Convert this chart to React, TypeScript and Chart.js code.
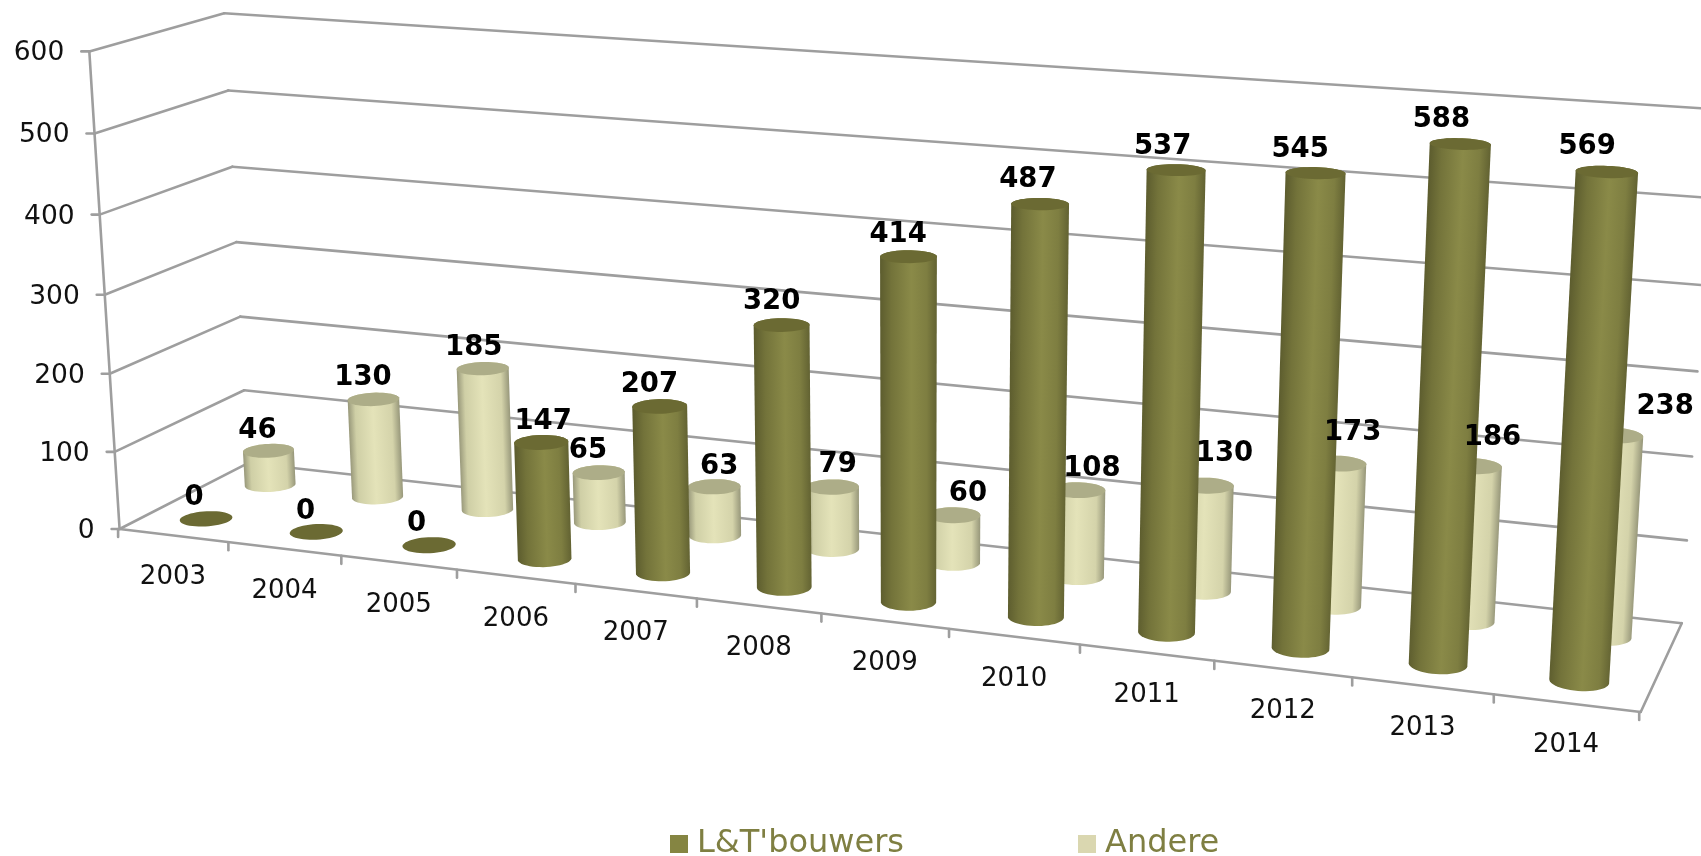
import React, { useEffect, useRef } from "react";
import { Chart, BarController, registerables } from "chart.js";

Chart.register(...registerables);

const categories = ["2003","2004","2005","2006","2007","2008","2009","2010","2011","2012","2013","2014"];
const bouwers = [0,0,0,147,207,320,414,487,537,545,588,569];
const andere = [46,130,185,65,63,79,60,108,130,173,186,238];

// perspective box: corners of the floor / wall as seen in the picture, and vanishing points
const ORIGIN = { x: 119.6, y: 529 };
const FRONT_RIGHT = { x: 1640.7, y: 712 };
const BACK_LEFT = { x: 248, y: 463 };
const TOP_LEFT = { x: 89.3, y: 51.4 };
const VP_U = { x: -9223, y: -595 };
const VP_W = { x: 2225.7, y: -553 };
const VP_H = { x: 910, y: 12997 };

const axisCol = (a: any, b: any, v: any) => {
  const useX = Math.abs(b.x - a.x) > Math.abs(b.y - a.y);
  const k = useX ? (b.x - a.x) / (v.x - b.x) : (b.y - a.y) / (v.y - b.y);
  return [k * v.x, k * v.y, k];
};
const colU = axisCol(ORIGIN, FRONT_RIGHT, VP_U);
const colW = axisCol(ORIGIN, BACK_LEFT, VP_W);
const colH = axisCol(ORIGIN, TOP_LEFT, VP_H);
const project = (u: number, w: number, h: number) => {
  const d = colU[2] * u + colW[2] * w + colH[2] * h + 1;
  return {
    x: (colU[0] * u + colW[0] * w + colH[0] * h + ORIGIN.x) / d,
    y: (colU[1] * u + colW[1] * w + colH[1] * h + ORIGIN.y) / d,
  };
};

const R_U = 0.0172;
const R_W = 0.105;
const STEPS = 48;

const circle = (u: number, w: number, h: number) => {
  const pts = [] as any[];
  for (let i = 0; i < STEPS; i++) {
    const t = (i / STEPS) * Math.PI * 2;
    pts.push(project(u + R_U * Math.cos(t), w + R_W * Math.sin(t), h));
  }
  return pts;
};

const hull = (points: any[]) => {
  const p = [...points].sort((a, b) => a.x - b.x || a.y - b.y);
  const cross = (o: any, a: any, b: any) => (a.x - o.x) * (b.y - o.y) - (a.y - o.y) * (b.x - o.x);
  const lower: any[] = [];
  for (const q of p) {
    while (lower.length >= 2 && cross(lower[lower.length - 2], lower[lower.length - 1], q) <= 0) lower.pop();
    lower.push(q);
  }
  const upper: any[] = [];
  for (const q of p.slice().reverse()) {
    while (upper.length >= 2 && cross(upper[upper.length - 2], upper[upper.length - 1], q) <= 0) upper.pop();
    upper.push(q);
  }
  return lower.slice(0, -1).concat(upper.slice(0, -1));
};

const polygon = (ctx: CanvasRenderingContext2D, pts: any[]) => {
  ctx.beginPath();
  pts.forEach((p, i) => (i ? ctx.lineTo(p.x, p.y) : ctx.moveTo(p.x, p.y)));
  ctx.closePath();
};

const normU = (chart: any, i: number) => {
  const s = chart.scales.x;
  return (s.getPixelForValue(i) - s.left) / (s.right - s.left);
};
const normH = (chart: any, py: number) => {
  const s = chart.scales.y;
  return (s.bottom - py) / (s.bottom - s.top);
};

class Cylinder3DController extends BarController {
  draw() {
    const chart: any = this.chart;
    const ctx: CanvasRenderingContext2D = chart.ctx;
    const meta: any = this.getMeta();
    const ds: any = this.getDataset();
    meta.data.forEach((bar: any, i: number) => {
      const u = normU(chart, i);
      const h = normH(chart, bar.y);
      const base = circle(u, ds.depth, 0);
      const top = circle(u, ds.depth, h);
      if (h > 0.0001) {
        const outline = hull(base.concat(top));
        const bc = project(u, ds.depth, 0);
        const tc = project(u, ds.depth, h);
        const ax = tc.x - bc.x, ay = tc.y - bc.y;
        const len = Math.hypot(ax, ay);
        const nx = -ay / len, ny = ax / len;
        const proj = outline.map((p: any) => (p.x - bc.x) * nx + (p.y - bc.y) * ny);
        const mn = Math.min(...proj), mx = Math.max(...proj);
        const g = ctx.createLinearGradient(bc.x + nx * mn, bc.y + ny * mn, bc.x + nx * mx, bc.y + ny * mx);
        ds.shade.forEach((c: string, k: number) => g.addColorStop(ds.shadeStops[k], c));
        ctx.fillStyle = g;
        polygon(ctx, outline);
        ctx.fill();
      }
      ctx.fillStyle = ds.capColor;
      polygon(ctx, top);
      ctx.fill();
    });
  }
}
(Cylinder3DController as any).id = "cylinder3d";
(Cylinder3DController as any).defaults = BarController.defaults;
(Cylinder3DController as any).overrides = BarController.overrides;
Chart.register(Cylinder3DController as any);

const GRID = "#9e9e9e";
const TICK_FONT = "26.5px 'DejaVu Sans'";
const CAT_FONT = "26px 'DejaVu Sans'";
const LABEL_FONT = "bold 27.5px 'DejaVu Sans'";

const line = (ctx: CanvasRenderingContext2D, a: any, b: any) => {
  ctx.beginPath();
  ctx.moveTo(a.x, a.y);
  ctx.lineTo(b.x, b.y);
  ctx.stroke();
};

const framePlugin = {
  id: "frame3d",
  afterLayout(chart: any) {
    const lg = chart.legend;
    const pad = lg.options.labels.padding;
    lg.left = 677 - pad;
    lg.right = 1701;
    lg.top = 828 - pad;
    lg.bottom = 856;
  },
  beforeDatasetsDraw(chart: any) {
    const ctx: CanvasRenderingContext2D = chart.ctx;
    const ys = chart.scales.y;
    const xs = chart.scales.x;
    ctx.save();
    ctx.strokeStyle = GRID;
    ctx.lineWidth = 2.6;
    ctx.lineCap = "round";
    ctx.fillStyle = "#111";
    // value axis, gridlines over the left and back walls
    ctx.font = TICK_FONT;
    ys.ticks.forEach((t: any) => {
      const h = normH(chart, ys.getPixelForValue(t.value));
      const f = project(0, 0, h);
      const b = project(0, 1, h);
      const r = project(1, 1, h);
      line(ctx, f, b);
      line(ctx, b, r);
      line(ctx, f, { x: f.x - 8, y: f.y });
      ctx.textAlign = "right";
      ctx.textBaseline = "middle";
      ctx.fillText(String(t.value), f.x - 25, f.y + 2);
    });
    line(ctx, project(0, 0, 0), project(0, 0, 1));
    // floor
    line(ctx, project(0, 0, 0), project(1, 0, 0));
    line(ctx, project(1, 0, 0), project(1, 1, 0));
    // category axis
    ctx.font = CAT_FONT;
    const n = xs.getLabels().length;
    xs.getLabels().forEach((label: string, i: number) => {
      const p = project(normU(chart, i), 0, 0);
      ctx.textAlign = "center";
      ctx.textBaseline = "middle";
      ctx.fillText(label, p.x - 1.5, p.y + 42);
    });
    for (let i = 0; i <= n; i++) {
      const e = project(i / n, 0, 0);
      line(ctx, { x: e.x - 1.5, y: e.y }, { x: e.x - 1.5, y: e.y + 8 });
    }
    ctx.restore();
  },
  afterDatasetsDraw(chart: any) {
    const ctx: CanvasRenderingContext2D = chart.ctx;
    ctx.save();
    ctx.font = LABEL_FONT;
    ctx.fillStyle = "#000";
    ctx.textAlign = "center";
    ctx.textBaseline = "middle";
    chart.data.datasets.forEach((ds: any, idx: number) => {
      const meta = chart.getDatasetMeta(idx);
      meta.data.forEach((bar: any, i: number) => {
        const c = project(normU(chart, i), ds.depth, normH(chart, bar.y));
        const nudge = ds.labelShift[i];
        ctx.fillText(String(ds.data[i]), c.x + nudge[0], c.y + nudge[1]);
      });
    });
    ctx.restore();
  },
};

// hand placement of the value labels, relative to the top of each cylinder
const bouwersShift = [[-12,-21],[-10.7,-20],[-12.5,-21],[1.9,-21],[-10.3,-22],[-10,-23],[-10.3,-22],[-12.2,-24],[-13.5,-23],[-15.4,-23],[-18.9,-24],[-19.7,-25]];
const andereShift = [[-11,-20],[-10.5,-21],[-9,-21],[-10.8,-22],[5,-20],[5.3,-22],[14.4,-21],[13.8,-21],[18.5,-31.5],[14.6,-30.5],[19.4,-28],[51.3,-28]];

export default function App() {
  const ref = useRef<HTMLCanvasElement | null>(null);
  useEffect(() => {
    const chart = new Chart(ref.current as HTMLCanvasElement, {
      type: "bar",
      data: {
        labels: categories,
        datasets: [
          {
            type: "cylinder3d",
            label: "L&T'bouwers",
            data: bouwers,
            backgroundColor: "#858542",
            borderWidth: 0,
            clip: false,
            depth: 0.24,
            capColor: "#6b6a33",
            shade: ["#5c5c2e", "#73733a", "#8a8a48", "#7e7e41", "#626232"],
            shadeStops: [0, 0.2, 0.55, 0.82, 1],
            labelShift: bouwersShift,
          },
          {
            type: "cylinder3d",
            label: "Andere",
            data: andere,
            backgroundColor: "#dad7b0",
            borderWidth: 0,
            clip: false,
            depth: 0.75,
            capColor: "#adad88",
            shade: ["#98987a", "#cfcfa6", "#e4e3b9", "#d4d3aa", "#97977a"],
            shadeStops: [0, 0.14, 0.48, 0.84, 1],
            labelShift: andereShift,
          },
        ] as any,
      },
      options: {
        animation: false,
        responsive: false,
        events: [],
        scales: {
          x: { type: "category", offset: true, display: false },
          y: { type: "linear", min: 0, max: 600, display: false, ticks: { stepSize: 100 } },
        },
        plugins: {
          tooltip: { enabled: false },
          legend: {
            position: "bottom",
            align: "start",
            labels: {
              font: { family: "'DejaVu Sans'", size: 32 },
              color: "#7f7f42",
              usePointStyle: true,
              pointStyle: "rect",
              boxWidth: 4,
              boxHeight: 18,
              padding: 181,
            },
          },
        },
      } as any,
      plugins: [framePlugin],
    });
    return () => chart.destroy();
  }, []);
  return (
    <div style={{ position: "fixed", left: 0, top: 0, width: 1701, height: 856, background: "#fff" }}>
      <canvas ref={ref} width={1701} height={856} style={{ display: "block" }} />
    </div>
  );
}
